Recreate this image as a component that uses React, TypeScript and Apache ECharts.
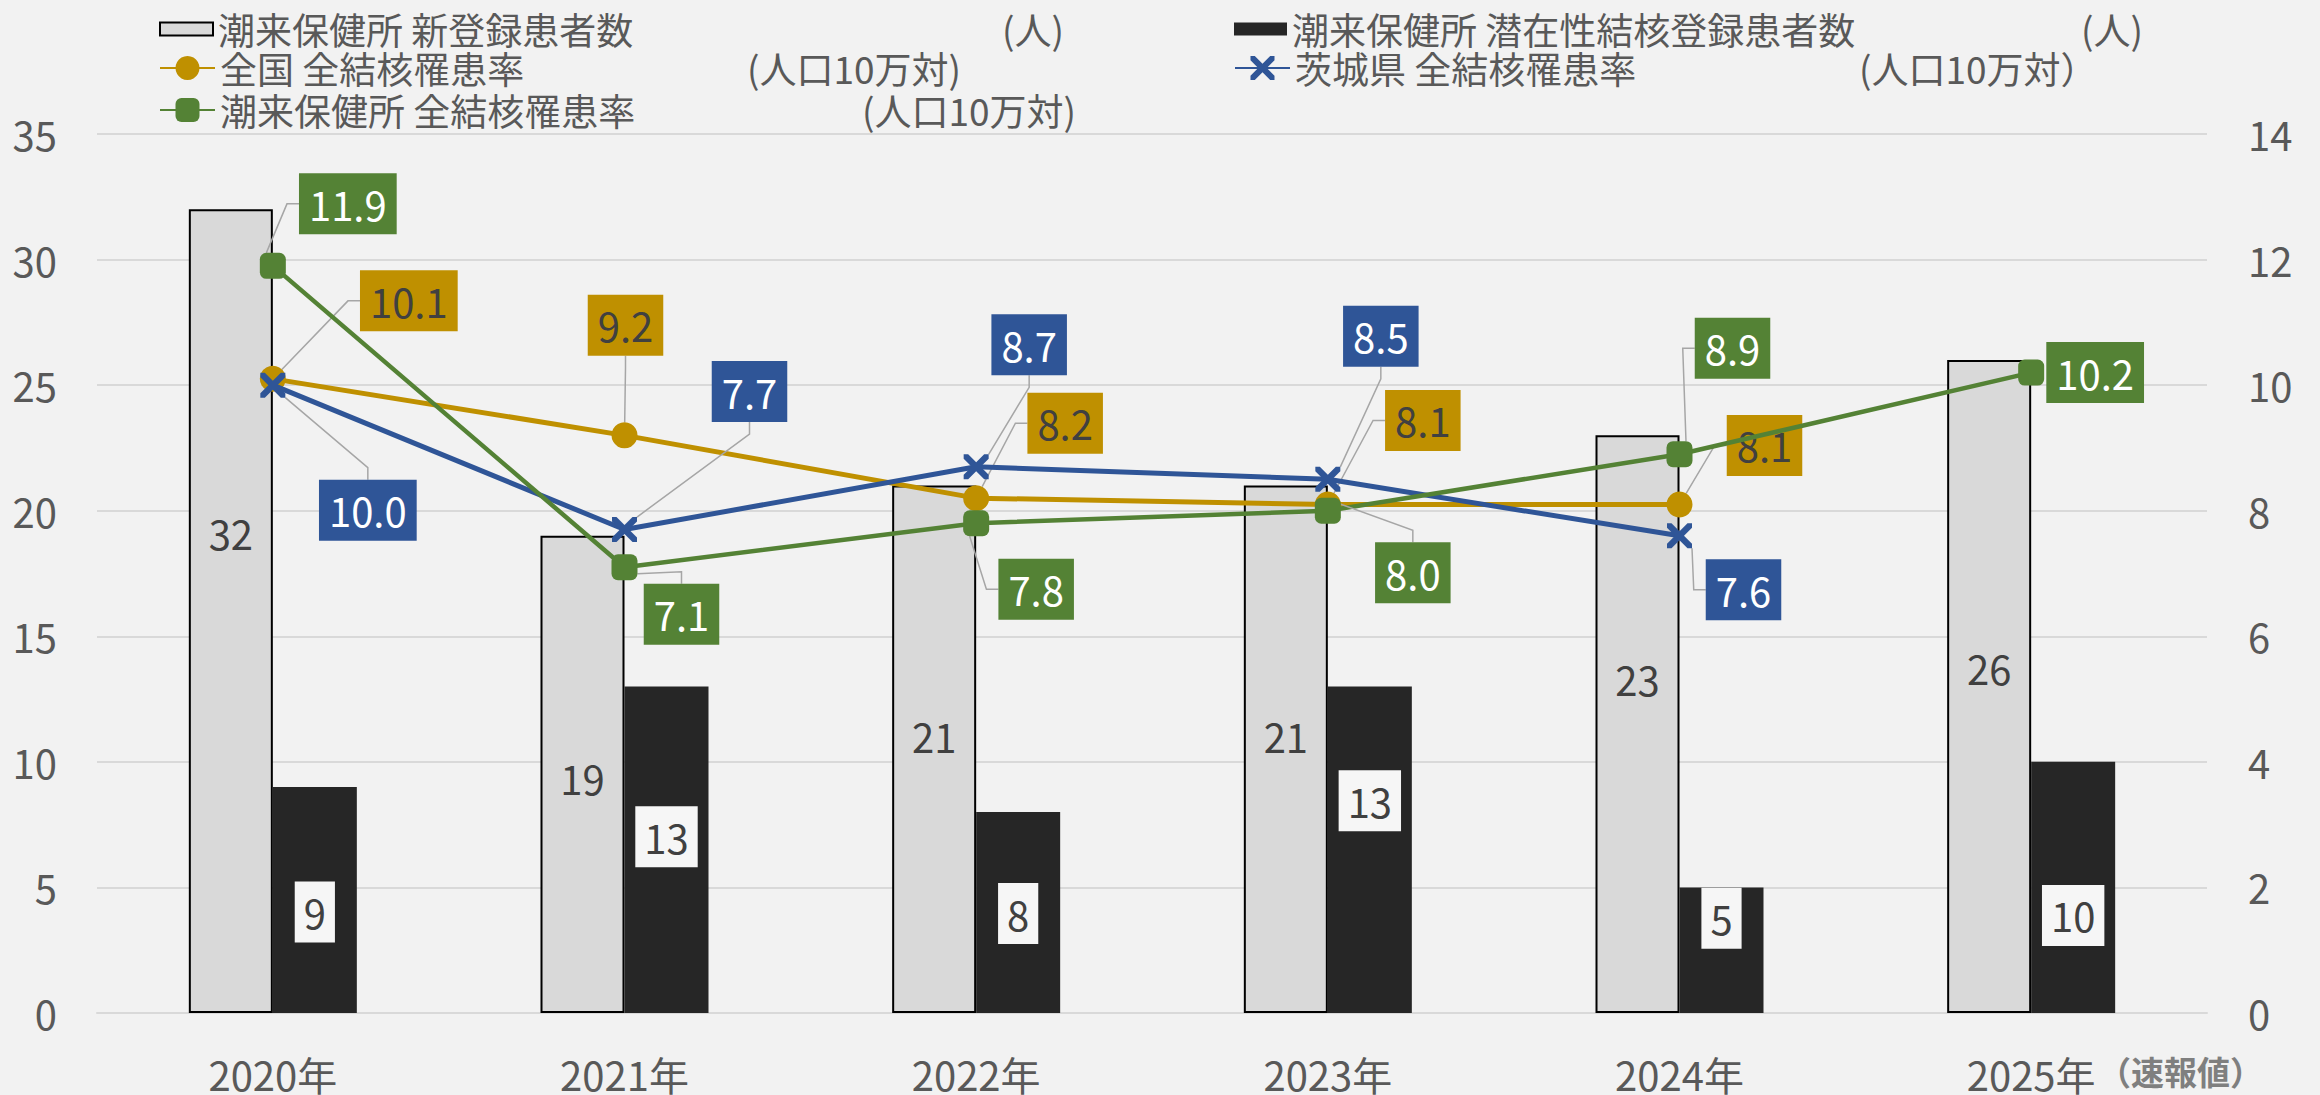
import React, { useEffect, useRef } from 'react';
import * as echarts from 'echarts';

// ---- data ----
const years = ['2020年', '2021年', '2022年', '2023年', '2024年', '2025年'];
const newCases = [32, 19, 21, 21, 23, 26];
const latentCases = [9, 13, 8, 13, 5, 10];
const nationalRate = [10.1, 9.2, 8.2, 8.1, 8.1, null];
const ibarakiRate = [10.0, 7.7, 8.7, 8.5, 7.6, null];
const itakoRate = [11.9, 7.1, 7.8, 8.0, 8.9, 10.2];

const seriesNames = [
  '潮来保健所 新登録患者数',
  '潮来保健所 潜在性結核登録患者数',
  '全国 全結核罹患率',
  '茨城県 全結核罹患率',
  '潮来保健所 全結核罹患率',
];

// ---- label placement (style) ----
const newCasesLabelDy = [-78, 4, -13, -13, -45, -19];
const latentLabelDy = [12, -13, 1, -49, -32, 28];
const nationalLabelOffset = [[136, -78], [1, -110], [89, -75], [95, -84], [85, -59], [0, 0]];
const ibarakiLabelOffset = [[95, 125], [125, -138], [53, -122], [53, -143], [64, 54], [0, 0]];
const itakoLabelOffset = [[75, -62], [57, 47], [60, 66], [85, 62], [53, -106], [64, 0]];

const FONT = '"Noto Sans CJK JP", "Noto Sans", sans-serif';
const GOLD = '#BF9000';
const BLUE = '#2F5597';
const GREEN = '#548235';
const TEXT = '#595959';
const XPATH = 'path://M0,0 L1.8,0 L5,3.2 L8.2,0 L10,0 L10,1.8 L6.8,5 L10,8.2 L10,10 L8.2,10 L5,6.8 L1.8,10 L0,10 L0,8.2 L3.2,5 L0,1.8 Z';

function makeLayout(offsets: number[][]) {
  return (p: any) => {
    const o = offsets[p.dataIndex] || [0, 0];
    return {
      x: p.rect.x + p.rect.width / 2 + o[0],
      y: p.rect.y + p.rect.height / 2 + o[1],
      align: 'center',
      verticalAlign: 'middle',
    };
  };
}

function rateLabel(bg: string, fg: string) {
  return {
    show: true,
    position: 'inside',
    formatter: (p: any) => (p.value == null ? '' : Number(p.value).toFixed(1)),
    color: fg,
    backgroundColor: bg,
    padding: [6, 10, 6, 10],
    fontSize: 40,
    lineHeight: 49,
    fontFamily: FONT,
  };
}

const labelLine = { show: true, length2: 12, lineStyle: { color: '#A6A6A6', width: 1.5 } };

export default function App() {
  const ref = useRef<HTMLDivElement>(null);
  useEffect(() => {
    if (!ref.current) return;
    const chart = echarts.init(ref.current, null, { renderer: 'svg' });
    const legendBase = {
      orient: 'horizontal',
      padding: 0,
      itemGap: 0,
      selectedMode: false,
      textStyle: { color: TEXT, fontSize: 37, fontFamily: FONT, lineHeight: 38 },
    };
    const unitText = (text: string, x: number, y: number) => ({
      type: 'text',
      x,
      y,
      silent: true,
      style: { text, fill: TEXT, fontSize: 37, lineHeight: 38, fontFamily: FONT, align: 'left', verticalAlign: 'middle' },
    });
    chart.setOption({
      animation: false,
      backgroundColor: '#F2F2F2',
      textStyle: { fontFamily: FONT },
      grid: { left: 97, right: 113, top: 134, bottom: 82, containLabel: false },
      legend: [
        { ...legendBase, data: [{ name: seriesNames[0], icon: 'rect' }], left: 159, top: 10, itemWidth: 53, itemHeight: 13 },
        { ...legendBase, data: [{ name: seriesNames[1], icon: 'rect' }], left: 1234, top: 10, itemWidth: 53, itemHeight: 13 },
        { ...legendBase, data: [seriesNames[2]], left: 159, top: 49, itemWidth: 55, itemHeight: 30 },
        { ...legendBase, data: [seriesNames[3]], left: 1234, top: 49, itemWidth: 55, itemHeight: 30 },
        { ...legendBase, data: [seriesNames[4]], left: 159, top: 91, itemWidth: 55, itemHeight: 30 },
      ],
      graphic: [
        unitText('(人)', 1002, 29),
        unitText('(人)', 2081, 29),
        unitText('(人口10万対)', 747, 68),
        unitText('(人口10万対）', 1859, 68),
        unitText('(人口10万対)', 862, 110),
        {
          type: 'text',
          x: 2098,
          y: 1071,
          silent: true,
          style: {
            text: '（速報値）',
            fill: '#7F7F7F',
            fontSize: 33,
            lineHeight: 36,
            fontWeight: 'bold',
            fontFamily: FONT,
            align: 'left',
            verticalAlign: 'middle',
          },
        },
      ],
      xAxis: {
        type: 'category',
        data: years,
        axisTick: { show: false },
        axisLine: { lineStyle: { color: '#D9D9D9', width: 2 } },
        axisLabel: { color: TEXT, fontSize: 40, lineHeight: 40, margin: 41, fontFamily: FONT },
      },
      yAxis: [
        {
          type: 'value',
          min: 0,
          max: 35,
          interval: 5,
          axisLabel: { color: TEXT, fontSize: 40, margin: 40, fontFamily: FONT },
          splitLine: { lineStyle: { color: '#D9D9D9', width: 2 } },
          axisLine: { show: false },
          axisTick: { show: false },
        },
        {
          type: 'value',
          min: 0,
          max: 14,
          interval: 2,
          position: 'right',
          axisLabel: { color: TEXT, fontSize: 40, margin: 41, fontFamily: FONT },
          splitLine: { show: false },
          axisLine: { show: false },
          axisTick: { show: false },
        },
      ],
      series: [
        {
          name: seriesNames[0],
          type: 'bar',
          yAxisIndex: 0,
          barWidth: 84,
          barGap: '0%',
          itemStyle: { color: '#D9D9D9', borderColor: '#000000', borderWidth: 2 },
          label: { show: true, position: 'inside', color: '#404040', fontSize: 40, fontFamily: FONT },
          data: newCases.map((v, i) => ({ value: v, label: { offset: [0, newCasesLabelDy[i]] } })),
          z: 1,
        },
        {
          name: seriesNames[1],
          type: 'bar',
          yAxisIndex: 0,
          barWidth: 84,
          barGap: '0%',
          itemStyle: { color: '#262626' },
          label: {
            show: true,
            position: 'inside',
            color: '#404040',
            backgroundColor: '#F6F6F6',
            padding: [6, 9, 6, 9],
            lineHeight: 49,
            fontSize: 40,
            fontFamily: FONT,
          },
          data: latentCases.map((v, i) => ({ value: v, label: { offset: [0, latentLabelDy[i]] } })),
          z: 1,
        },
        {
          name: seriesNames[2],
          type: 'line',
          yAxisIndex: 1,
          data: nationalRate,
          symbol: 'circle',
          symbolSize: 26,
          showAllSymbol: true,
          lineStyle: { color: GOLD, width: 5 },
          itemStyle: { color: GOLD },
          label: rateLabel(GOLD, '#404040'),
          labelLine,
          labelLayout: makeLayout(nationalLabelOffset),
          z: 3,
        },
        {
          name: seriesNames[3],
          type: 'line',
          yAxisIndex: 1,
          data: ibarakiRate,
          symbol: XPATH,
          symbolSize: 25,
          showAllSymbol: true,
          lineStyle: { color: BLUE, width: 5 },
          itemStyle: { color: BLUE },
          label: rateLabel(BLUE, '#FFFFFF'),
          labelLine,
          labelLayout: makeLayout(ibarakiLabelOffset),
          z: 4,
        },
        {
          name: seriesNames[4],
          type: 'line',
          yAxisIndex: 1,
          data: itakoRate.map((v, i) =>
            i === itakoRate.length - 1 ? { value: v, labelLine: { show: false } } : v
          ),
          symbol: 'roundRect',
          symbolSize: 26,
          showAllSymbol: true,
          lineStyle: { color: GREEN, width: 4.5 },
          itemStyle: { color: GREEN },
          label: rateLabel(GREEN, '#FFFFFF'),
          labelLine,
          labelLayout: makeLayout(itakoLabelOffset),
          z: 5,
        },
      ],
    });
    return () => chart.dispose();
  }, []);
  return (
    <div
      ref={ref}
      style={{ position: 'absolute', left: 0, top: 0, width: 2320, height: 1095 }}
    />
  );
}
